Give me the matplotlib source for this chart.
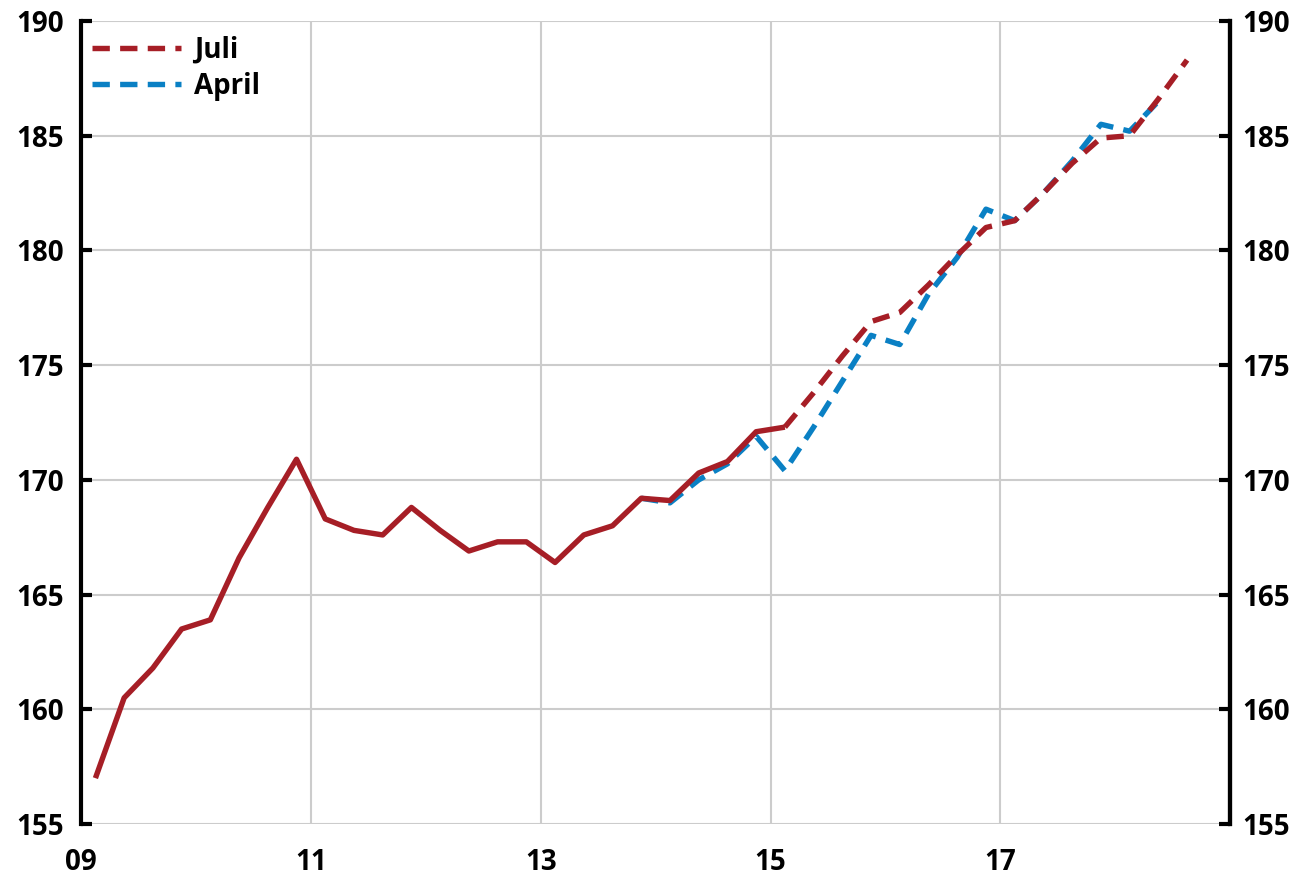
import matplotlib.pyplot as plt
import pandas as pd

# quarterly index, 2009 = 09
solid_start = '2009Q1'
solid_vals = [157.0, 160.5, 161.8, 163.5, 163.9, 166.6, 168.8, 170.9,
              168.3, 167.8, 167.6, 168.8, 167.8, 166.9, 167.3, 167.3,
              166.4, 167.6, 168.0, 169.2, 169.1, 170.3, 170.8, 172.1,
              172.3]

juli_start = '2015Q1'
juli_vals = [172.3, 173.8, 175.4, 176.9, 177.3, 178.5, 179.8, 181.0,
             181.3, 182.5, 183.8, 184.9, 185.0, 186.6, 188.3]

april_start = '2013Q4'
april_vals = [169.2, 169.0, 170.0, 170.7, 171.9, 170.4, 172.3, 174.3,
              176.3, 175.9, 178.1, 179.7, 181.8, 181.3, 182.5, 183.9,
              185.5, 185.2, 186.5]

xtick_years = [2009, 2011, 2013, 2015, 2017]
xtick_labels = ['09', '11', '13', '15', '17']
yticks = [155, 160, 165, 170, 175, 180, 185, 190]

RED = '#a61e26'
BLUE = '#0a80c4'
GRID = '#cccccc'


def quarter_x(start, n):
    # mid-quarter position on a fractional year axis
    p = pd.period_range(start=start, periods=n, freq='Q')
    return [q.year + (q.quarter - 0.5) / 4 for q in p]


plt.rcParams['font.family'] = ['Open Sans', 'DejaVu Sans']
plt.rcParams['font.weight'] = 'bold'

fig = plt.figure(figsize=(12.99, 8.77), dpi=100)
ax = fig.add_axes([0.0624, 0.0604, 0.8846, 0.9156])

ax.plot(quarter_x(april_start, len(april_vals)), april_vals, color=BLUE,
        lw=3.9, dashes=(3.2, 1.9), label='April', zorder=3)
ax.plot(quarter_x(juli_start, len(juli_vals)), juli_vals, color=RED,
        lw=3.9, dashes=(3.2, 1.9), label='Juli', zorder=4)
ax.plot(quarter_x(solid_start, len(solid_vals)), solid_vals, color=RED,
        lw=3.9, solid_capstyle='butt', zorder=5)

ax.set_xlim(2009, 2019)
ax.set_ylim(155, 190)
ax.set_yticks(yticks)
ax.set_xticks(xtick_years)
ax.set_xticklabels(xtick_labels, fontweight='bold')
for t in ax.get_yticklabels():
    t.set_fontweight('bold')

ax.grid(True, color=GRID, lw=1.5)
ax.set_axisbelow(True)

for s in ['top', 'bottom']:
    ax.spines[s].set_visible(False)
for s in ['left', 'right']:
    ax.spines[s].set_linewidth(3)
    ax.spines[s].set_color('black')

ax.tick_params(axis='x', length=0, pad=17, labelsize=20)
ax.tick_params(axis='y', direction='in', length=8, width=3, pad=12,
               labelsize=20, left=True, right=False)

ax2 = ax.twinx()
ax2.set_ylim(155, 190)
ax2.set_yticks(yticks)
for t in ax2.get_yticklabels():
    t.set_fontweight('bold')
for s in ['top', 'bottom', 'left']:
    ax2.spines[s].set_visible(False)
ax2.spines['right'].set_linewidth(3)
ax2.tick_params(axis='y', direction='in', length=8, width=3, pad=9,
                labelsize=20)

h, l = ax.get_legend_handles_labels()
order = [l.index('Juli'), l.index('April')]
ax.legend([h[i] for i in order], [l[i] for i in order], loc='upper left',
          frameon=False, prop={'size': 20, 'weight': 'bold'},
          handlelength=3.2, handletextpad=0.45, labelspacing=0.25,
          borderaxespad=0.3, bbox_to_anchor=(-0.007, 1.006))

fig.savefig('out.png', dpi=100)
